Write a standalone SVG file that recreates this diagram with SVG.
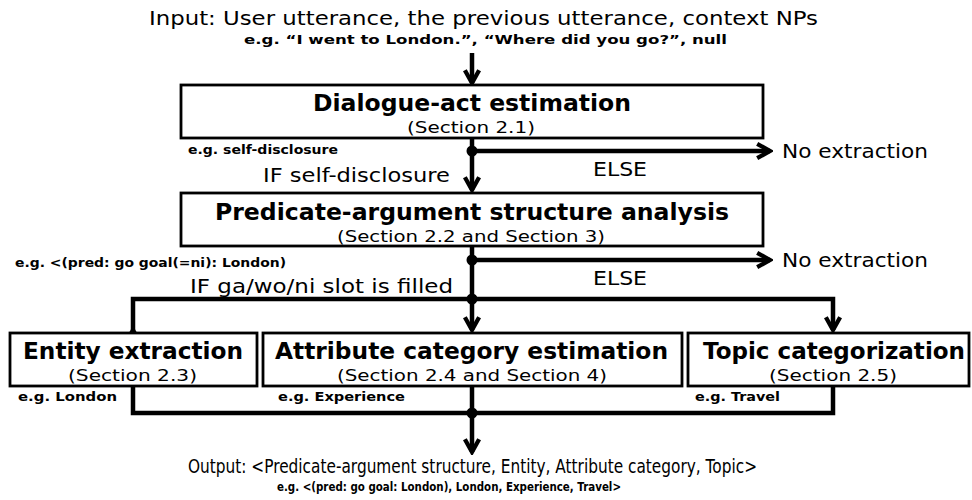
<svg xmlns="http://www.w3.org/2000/svg" width="972" height="500" viewBox="0 0 972 500">
<style>
.t{font-family:"DejaVu Sans","Noto Sans",sans-serif;fill:#000}
.main{font-size:19.5px}
.title{font-size:22.5px;font-weight:bold}
.sec{font-size:16.5px}
.eg{font-family:"DejaVu Sans",sans-serif;font-size:12.5px;font-weight:bold;fill:#000}
.box{fill:#fff;stroke:#000;stroke-width:2.8}
.ln{fill:none;stroke:#000;stroke-width:4.5}
</style>
<defs>
<marker id="ah" viewBox="0 0 12 12" refX="10" refY="6" markerWidth="3.8" markerHeight="3.8" markerUnits="strokeWidth" orient="auto">
<path d="M1,1 L10,6 L1,11" fill="none" stroke="#000" stroke-width="3" stroke-linejoin="miter"/>
</marker>
</defs>
<rect width="972" height="500" fill="#fff"/>
<text class="t main" x="149" y="25" textLength="669" lengthAdjust="spacingAndGlyphs">Input: User utterance, the previous utterance, context NPs</text>
<text class="eg" x="244" y="44" textLength="483" lengthAdjust="spacingAndGlyphs">e.g. “I went to London.”, “Where did you go?”, null</text>

<g id="connectors">
<line class="ln" x1="472" y1="53" x2="472" y2="83" marker-end="url(#ah)"/>
<line class="ln" x1="472" y1="139" x2="472" y2="190" marker-end="url(#ah)"/>
<line class="ln" x1="472" y1="151" x2="770" y2="151" marker-end="url(#ah)"/>
<circle cx="472" cy="151" r="5.5"/>
<line class="ln" x1="472" y1="246" x2="472" y2="330" marker-end="url(#ah)"/>
<line class="ln" x1="472" y1="260" x2="770" y2="260" marker-end="url(#ah)"/>
<circle cx="472" cy="260" r="5.5"/>
<path class="ln" d="M133,330 V299 H833 V330" marker-start="url(#ah)" marker-end="url(#ah)"/>
<circle cx="472" cy="299" r="5.5"/>
<path class="ln" d="M133,386 V413 H833 V386"/>
<line class="ln" x1="472" y1="386" x2="472" y2="452" marker-end="url(#ah)"/>
<circle cx="472" cy="413" r="5.5"/>
</g>

<g id="dialogue-act">
<rect class="box" x="181" y="85" width="582" height="53"/>
<text class="t title" x="313" y="111" textLength="318" lengthAdjust="spacingAndGlyphs">Dialogue-act estimation</text>
<text class="t sec" x="407" y="133" textLength="128" lengthAdjust="spacingAndGlyphs">(Section 2.1)</text>
</g>
<text class="eg" x="188" y="154" textLength="150" lengthAdjust="spacingAndGlyphs">e.g. self-disclosure</text>
<text class="t main" x="263" y="182" textLength="187" lengthAdjust="spacingAndGlyphs">IF self-disclosure</text>
<text class="t main" x="593" y="176" textLength="54" lengthAdjust="spacingAndGlyphs">ELSE</text>
<text class="t main" x="782" y="158" textLength="146" lengthAdjust="spacingAndGlyphs">No extraction</text>

<g id="pas">
<rect class="box" x="181" y="193" width="582" height="53"/>
<text class="t title" x="215" y="220" textLength="514" lengthAdjust="spacingAndGlyphs">Predicate-argument structure analysis</text>
<text class="t sec" x="337" y="242" textLength="268" lengthAdjust="spacingAndGlyphs">(Section 2.2 and Section 3)</text>
</g>
<text class="eg" x="15" y="267" textLength="271" lengthAdjust="spacingAndGlyphs">e.g. &lt;(pred: go goal(=ni): London)</text>
<text class="t main" x="190" y="293" textLength="263" lengthAdjust="spacingAndGlyphs">IF ga/wo/ni slot is filled</text>
<text class="t main" x="593" y="285" textLength="54" lengthAdjust="spacingAndGlyphs">ELSE</text>
<text class="t main" x="782" y="267" textLength="146" lengthAdjust="spacingAndGlyphs">No extraction</text>

<g id="entity">
<rect class="box" x="10" y="333" width="247" height="53"/>
<text class="t title" x="23" y="359" textLength="220" lengthAdjust="spacingAndGlyphs">Entity extraction</text>
<text class="t sec" x="68" y="381" textLength="129" lengthAdjust="spacingAndGlyphs">(Section 2.3)</text>
</g>
<g id="attribute">
<rect class="box" x="263" y="333" width="419" height="53"/>
<text class="t title" x="275" y="359" textLength="393" lengthAdjust="spacingAndGlyphs">Attribute category estimation</text>
<text class="t sec" x="337" y="381" textLength="270" lengthAdjust="spacingAndGlyphs">(Section 2.4 and Section 4)</text>
</g>
<g id="topic">
<rect class="box" x="688" y="333" width="281" height="53"/>
<text class="t title" x="703" y="359" textLength="262" lengthAdjust="spacingAndGlyphs">Topic categorization</text>
<text class="t sec" x="769" y="381" textLength="128" lengthAdjust="spacingAndGlyphs">(Section 2.5)</text>
</g>
<text class="eg" x="18" y="401" textLength="99" lengthAdjust="spacingAndGlyphs">e.g. London</text>
<text class="eg" x="278" y="401" textLength="127" lengthAdjust="spacingAndGlyphs">e.g. Experience</text>
<text class="eg" x="695" y="401" textLength="85" lengthAdjust="spacingAndGlyphs">e.g. Travel</text>

<text class="t main" x="188" y="473" textLength="569" lengthAdjust="spacingAndGlyphs">Output: &lt;Predicate-argument structure, Entity, Attribute category, Topic&gt;</text>
<text class="eg" x="277" y="491" textLength="344" lengthAdjust="spacingAndGlyphs">e.g. &lt;(pred: go goal: London), London, Experience, Travel&gt;</text>
</svg>
